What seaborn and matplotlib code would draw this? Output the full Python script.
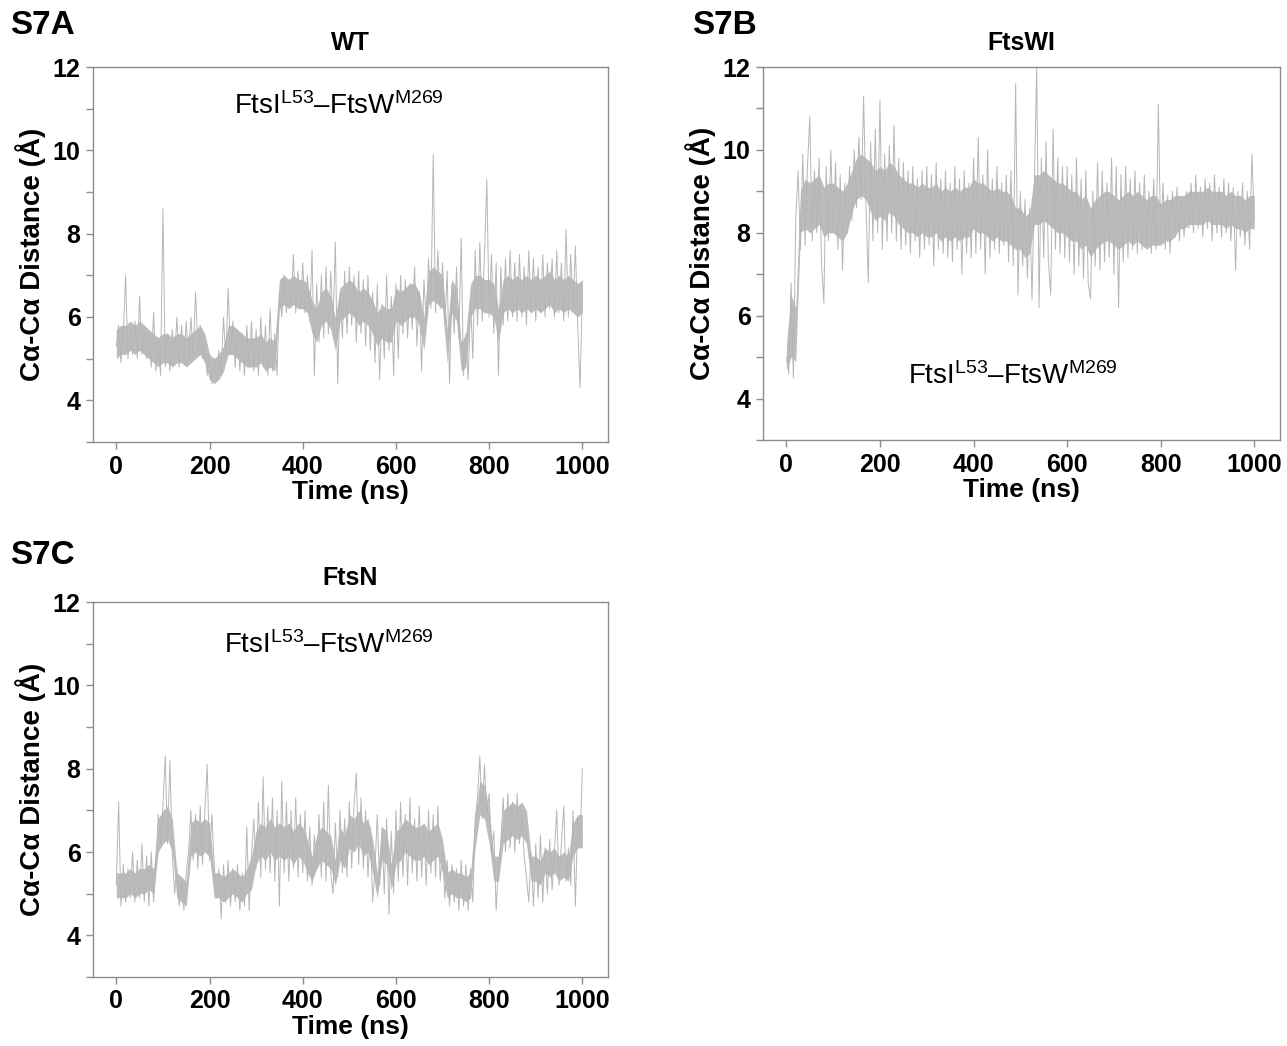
import numpy as np
import pandas as pd
import matplotlib
matplotlib.use("Agg")
import matplotlib.pyplot as plt
import seaborn as sns

# ---- data (Cα-Cα distance, Å) ----
# trace read every 5 ns (local highs / lows)
time_ns = list(range(0, 1001, 5))
# dense core of the trace, read every 10 ns
core_time = list(range(0, 1001, 10))

wt_dist = [
    5.3, 5.8, 4.9, 5.6, 7.0, 5.0, 5.7, 5.1, 5.9, 5.0,
    6.5, 5.1, 5.8, 5.0, 5.6, 4.8, 6.1, 4.7, 5.5, 4.6,
    8.6, 4.8, 5.6, 4.7, 5.7, 5.0, 6.0, 4.8, 5.8, 4.9,
    5.9, 5.0, 6.0, 5.1, 6.6, 5.2, 5.8, 5.0, 5.4, 4.6,
    5.1, 4.4, 5.0, 4.5, 5.2, 4.6, 6.0, 5.0, 6.7, 5.1,
    5.9, 4.8, 5.7, 4.7, 5.6, 4.6, 5.8, 4.8, 5.9, 4.7,
    5.7, 4.6, 6.0, 4.8, 5.8, 4.6, 6.2, 4.7, 5.6, 4.6,
    6.6, 6.0, 7.0, 6.1, 6.9, 6.3, 7.5, 6.1, 7.1, 6.2,
    7.3, 6.1, 7.0, 5.9, 7.6, 4.6, 6.8, 5.4, 7.0, 5.5,
    7.2, 5.6, 7.1, 5.8, 7.8, 4.4, 6.6, 5.5, 7.1, 5.6,
    7.2, 5.8, 7.0, 5.4, 7.1, 5.6, 6.9, 5.3, 7.0, 5.2,
    6.6, 4.9, 6.8, 4.5, 6.3, 5.0, 7.0, 5.2, 6.5, 4.6,
    6.8, 5.0, 7.0, 5.6, 6.9, 5.5, 6.8, 5.7, 7.2, 5.3,
    6.6, 4.7, 6.9, 5.9, 7.4, 6.2, 9.9, 6.1, 7.6, 6.2,
    7.3, 5.8, 7.1, 4.4, 6.8, 5.6, 7.2, 5.5, 7.9, 4.6,
    5.6, 4.5, 6.4, 5.0, 7.6, 5.8, 7.8, 5.9, 7.5, 9.3,
    6.0, 7.5, 5.6, 7.3, 4.6, 7.2, 5.8, 7.4, 5.9, 7.6,
    6.0, 7.3, 5.9, 7.5, 6.0, 7.2, 5.8, 7.6, 6.1, 7.4,
    5.9, 7.2, 6.1, 7.5, 6.0, 7.3, 6.2, 7.4, 6.0, 7.6,
    6.1, 7.3, 5.9, 8.1, 6.0, 7.5, 6.2, 7.7, 5.8, 4.3,
    6.6,
]
wt_core_lo = [
    5.0, 5.1, 5.1, 5.2, 5.1, 5.2, 5.1, 5.0, 4.9, 4.8,
    4.9, 4.9, 4.8, 4.9, 4.9, 4.8, 4.9, 5.0, 5.1, 4.9,
    4.5, 4.4, 4.5, 4.7, 5.1, 5.1, 5.0, 4.9, 4.8, 4.8,
    4.8, 4.9, 4.7, 4.8, 4.7, 6.2, 6.3, 6.2, 6.3, 6.2,
    6.2, 6.1, 5.6, 5.4, 5.8, 5.9, 5.7, 5.2, 5.9, 6.0,
    6.1, 6.0, 5.8, 5.9, 5.8, 5.6, 5.3, 5.5, 5.4, 5.4,
    5.9, 5.8, 5.9, 6.0, 6.0, 5.8, 5.2, 6.3, 6.4, 6.3,
    6.2, 4.9, 6.1, 5.9, 4.7, 4.8, 6.0, 6.2, 6.2, 6.1,
    6.1, 6.0, 5.4, 6.1, 6.2, 6.1, 6.2, 6.1, 6.2, 6.1,
    6.2, 6.1, 6.2, 6.3, 6.1, 6.2, 6.1, 6.2, 6.1, 6.0,
    6.1,
]
wt_core_hi = [
    5.7, 5.8, 5.8, 5.9, 5.8, 5.9, 5.8, 5.7, 5.6, 5.5,
    5.6, 5.6, 5.5, 5.6, 5.6, 5.5, 5.6, 5.7, 5.8, 5.6,
    5.1, 5.0, 5.1, 5.3, 5.8, 5.8, 5.7, 5.6, 5.5, 5.5,
    5.5, 5.6, 5.4, 5.5, 5.4, 6.9, 7.0, 6.9, 7.0, 6.9,
    6.9, 6.8, 6.4, 6.2, 6.6, 6.7, 6.5, 6.0, 6.7, 6.8,
    6.9, 6.8, 6.6, 6.7, 6.6, 6.4, 6.1, 6.3, 6.2, 6.2,
    6.7, 6.6, 6.7, 6.8, 6.8, 6.6, 6.0, 7.1, 7.2, 7.1,
    7.0, 5.7, 6.9, 6.7, 5.4, 5.6, 6.8, 7.0, 7.0, 6.9,
    6.9, 6.8, 6.2, 6.9, 7.0, 6.9, 7.0, 6.9, 7.0, 6.9,
    7.0, 6.9, 7.0, 7.1, 6.9, 7.0, 6.9, 7.0, 6.9, 6.8,
    6.9,
]

ftswi_dist = [
    5.0, 4.6, 6.8, 4.5, 8.3, 9.5, 7.6, 9.9, 7.7, 9.6,
    10.8, 7.8, 9.5, 8.0, 9.8, 7.3, 6.3, 9.6, 7.8, 10.0,
    8.0, 9.7, 7.6, 9.4, 7.1, 9.2, 8.0, 9.6, 8.3, 10.0,
    8.6, 10.3, 8.8, 11.3, 8.7, 6.8, 10.2, 7.8, 10.5, 8.0,
    11.2, 7.6, 9.9, 7.8, 10.1, 8.0, 10.6, 7.8, 9.8, 7.6,
    9.7, 7.7, 9.5, 7.5, 9.6, 7.8, 9.3, 7.4, 9.5, 7.6,
    9.6, 7.7, 9.4, 7.2, 9.7, 7.6, 9.3, 7.5, 9.5, 7.4,
    9.2, 7.3, 9.6, 7.6, 9.3, 7.0, 9.5, 7.5, 9.2, 7.4,
    9.8, 7.5, 10.3, 7.6, 9.4, 7.0, 10.0, 7.4, 9.3, 7.6,
    9.6, 7.5, 9.2, 7.7, 9.4, 7.3, 9.5, 7.2, 11.6, 6.5,
    9.0, 7.2, 8.8, 6.9, 8.6, 6.4, 9.2, 12.0, 6.2, 9.8,
    7.4, 10.2, 7.3, 6.5, 10.5, 7.6, 9.8, 7.5, 9.6, 7.4,
    9.6, 7.3, 9.4, 7.0, 9.8, 7.2, 9.3, 6.9, 9.5, 6.8,
    6.4, 9.0, 7.2, 9.7, 7.1, 9.5, 7.3, 9.2, 7.4, 9.8,
    7.0, 9.6, 6.2, 9.4, 7.3, 9.6, 7.4, 9.3, 7.6, 9.5,
    7.5, 9.2, 7.6, 9.4, 7.7, 9.0, 7.5, 9.3, 7.6, 11.1,
    7.8, 9.2, 7.6, 8.9, 7.5, 9.0, 7.9, 9.1, 7.8, 8.8,
    7.9, 9.0, 8.1, 9.2, 8.0, 9.4, 8.1, 9.1, 7.9, 9.3,
    8.1, 9.2, 7.8, 9.4, 8.0, 9.1, 7.9, 9.3, 8.0, 9.2,
    7.8, 9.1, 7.1, 9.0, 7.9, 9.2, 7.7, 9.0, 7.6, 9.9,
    8.3,
]
ftswi_core_lo = [
    4.7, 5.0, 4.9, 8.0, 8.1, 8.0, 8.1, 8.2, 7.9, 8.0,
    8.0, 7.9, 7.8, 8.0, 8.5, 8.8, 8.9, 8.8, 8.5, 8.3,
    8.4, 8.3, 8.5, 8.4, 8.2, 8.1, 8.0, 8.0, 7.9, 8.0,
    7.9, 7.9, 8.0, 7.8, 7.9, 7.8, 7.9, 7.8, 7.9, 7.9,
    8.1, 8.0, 8.0, 7.9, 7.8, 7.9, 7.8, 7.8, 7.7, 7.6,
    7.6, 7.4, 7.5, 8.2, 8.2, 8.3, 8.2, 8.1, 8.0, 8.0,
    7.9, 7.8, 7.8, 7.6, 7.7, 7.4, 7.6, 7.7, 7.8, 7.8,
    7.7, 7.6, 7.7, 7.8, 7.7, 7.8, 7.7, 7.6, 7.7, 7.7,
    7.7, 7.8, 7.8, 7.9, 8.1, 8.1, 8.2, 8.2, 8.2, 8.2,
    8.3, 8.2, 8.2, 8.2, 8.1, 8.2, 8.1, 8.1, 8.0, 8.1,
    8.1,
]
ftswi_core_hi = [
    5.3, 6.5, 6.2, 9.0, 9.3, 9.2, 9.3, 9.4, 9.1, 9.2,
    9.2, 9.1, 9.0, 9.2, 9.5, 9.8, 9.9, 9.8, 9.7, 9.5,
    9.6, 9.5, 9.7, 9.6, 9.4, 9.3, 9.2, 9.2, 9.1, 9.2,
    9.1, 9.1, 9.2, 9.0, 9.1, 9.0, 9.1, 9.0, 9.1, 9.1,
    9.3, 9.2, 9.2, 9.1, 9.0, 9.1, 9.0, 9.0, 8.9, 8.6,
    8.6, 8.4, 8.5, 9.4, 9.4, 9.5, 9.4, 9.3, 9.2, 9.2,
    9.1, 9.0, 9.0, 8.8, 8.9, 8.6, 8.8, 8.9, 9.0, 9.0,
    8.9, 8.8, 8.9, 9.0, 8.9, 9.0, 8.9, 8.8, 8.9, 8.9,
    8.7, 8.8, 8.8, 8.9, 8.9, 8.9, 9.0, 9.0, 9.0, 9.0,
    9.1, 9.0, 9.0, 9.0, 8.9, 9.0, 8.9, 8.9, 8.8, 8.9,
    8.9,
]

ftsn_dist = [
    5.2, 7.2, 4.7, 5.7, 4.8, 5.6, 4.9, 6.0, 4.8, 5.8,
    4.9, 6.2, 4.8, 5.9, 4.7, 6.0, 4.8, 5.7, 6.9, 6.2,
    7.1, 8.3, 6.2, 8.2, 6.0, 5.0, 5.6, 4.7, 5.4, 4.6,
    5.5, 6.0, 7.0, 5.8, 6.9, 5.6, 7.1, 5.7, 7.0, 8.1,
    5.8, 6.9, 5.7, 4.9, 5.6, 4.4, 5.7, 4.8, 5.8, 4.7,
    5.6, 4.8, 5.7, 4.6, 5.5, 4.7, 6.6, 4.6, 5.9, 6.8,
    5.6, 7.2, 5.4, 7.8, 5.6, 7.1, 5.5, 7.3, 5.3, 7.0,
    4.7, 7.7, 5.5, 7.2, 5.3, 7.0, 5.6, 7.3, 5.4, 6.9,
    5.5, 7.0, 5.3, 6.6, 5.2, 6.4, 5.6, 6.9, 5.4, 7.2,
    5.3, 7.6, 5.5, 5.0, 6.7, 5.4, 7.0, 5.5, 6.8, 5.4,
    7.2, 5.6, 7.1, 7.9, 5.7, 7.3, 5.6, 7.0, 5.4, 6.6,
    4.8, 5.6, 6.9, 5.2, 6.6, 5.0, 6.8, 4.5, 6.5, 5.0,
    7.0, 5.3, 7.2, 5.4, 6.9, 5.2, 7.3, 5.5, 6.8, 5.3,
    7.1, 5.4, 6.6, 5.2, 7.0, 5.5, 6.9, 5.4, 7.1, 5.3,
    6.0, 4.9, 5.8, 4.7, 5.7, 4.8, 5.6, 4.6, 5.8, 4.7,
    5.7, 4.6, 5.6, 4.8, 6.8, 7.3, 8.3, 6.8, 8.1, 6.9,
    7.4, 6.0, 6.5, 4.6, 5.7, 6.2, 7.3, 6.0, 7.4, 6.1,
    7.2, 6.0, 7.4, 6.2, 7.0, 5.9, 5.4, 4.8, 6.0, 4.7,
    6.2, 4.9, 6.4, 4.8, 6.1, 5.0, 6.3, 5.1, 6.0, 7.0,
    5.2, 6.2, 7.1, 5.3, 6.1, 5.2, 7.0, 4.7, 6.8, 6.2,
    8.0,
]
ftsn_core_lo = [
    4.9, 4.9, 4.9, 5.0, 4.9, 5.0, 5.0, 5.1, 5.0, 6.0,
    6.2, 6.3, 6.0, 4.9, 4.8, 4.7, 5.9, 6.0, 5.9, 6.0,
    5.9, 4.9, 4.9, 4.8, 4.9, 5.0, 4.9, 4.8, 5.0, 5.1,
    5.7, 5.9, 5.8, 6.0, 5.8, 5.9, 5.8, 5.9, 5.7, 5.9,
    5.8, 5.5, 5.3, 5.6, 5.8, 5.7, 5.6, 5.2, 5.8, 5.6,
    6.1, 6.0, 6.2, 5.9, 6.0, 5.5, 4.9, 5.8, 5.7, 5.1,
    5.7, 5.8, 6.0, 5.9, 5.8, 5.8, 5.9, 5.7, 5.8, 5.9,
    5.5, 4.9, 5.0, 4.9, 4.9, 4.8, 4.9, 6.1, 6.9, 6.8,
    6.2, 5.3, 5.3, 6.2, 6.3, 6.4, 6.3, 6.4, 6.2, 5.3,
    5.3, 5.2, 5.5, 5.4, 5.5, 5.3, 5.4, 5.3, 5.9, 6.1,
    6.1,
]
ftsn_core_hi = [
    5.5, 5.5, 5.5, 5.6, 5.5, 5.6, 5.6, 5.7, 5.6, 6.8,
    7.0, 7.1, 6.8, 5.5, 5.4, 5.3, 6.7, 6.8, 6.7, 6.8,
    6.7, 5.5, 5.5, 5.4, 5.5, 5.6, 5.5, 5.4, 5.6, 5.9,
    6.5, 6.7, 6.6, 6.8, 6.6, 6.7, 6.6, 6.7, 6.5, 6.7,
    6.6, 6.3, 5.9, 6.4, 6.6, 6.5, 6.4, 5.8, 6.6, 6.4,
    6.9, 6.8, 7.0, 6.7, 6.8, 6.3, 5.5, 6.6, 6.5, 5.7,
    6.5, 6.6, 6.8, 6.7, 6.6, 6.6, 6.7, 6.5, 6.6, 6.7,
    6.3, 5.5, 5.6, 5.5, 5.5, 5.4, 5.5, 6.9, 7.7, 7.6,
    7.0, 5.9, 5.9, 7.0, 7.1, 7.2, 7.1, 7.2, 7.0, 5.9,
    5.9, 5.8, 6.1, 6.0, 6.1, 5.9, 6.0, 5.9, 6.7, 6.9,
    6.9,
]

panel_labels = ["S7A", "S7B", "S7C"]
panel_titles = ["WT", "FtsWI", "FtsN"]
pair_label = r"FtsI$^{\mathrm{L53}}$–FtsW$^{\mathrm{M269}}$"
x_ticks = [0, 200, 400, 600, 800, 1000]
y_major = [4, 6, 8, 10, 12]
y_minor = [3, 5, 7, 9, 11]

# ---- style ----
sns.set_style("white")
plt.rcParams["font.family"] = ["Liberation Sans", "DejaVu Sans"]
plt.rcParams["mathtext.fontset"] = "custom"
plt.rcParams["mathtext.rm"] = "Liberation Sans"
plt.rcParams["mathtext.it"] = "Liberation Sans:italic"
plt.rcParams["mathtext.bf"] = "Liberation Sans:bold"
plt.rcParams["text.color"] = "black"
plt.rcParams["axes.labelcolor"] = "black"
plt.rcParams["xtick.color"] = "black"
plt.rcParams["ytick.color"] = "black"

fig = plt.figure(figsize=(12.87, 10.46), dpi=100)
W, H = 1287, 1046

def px_axes(l, t, r, b):
    return fig.add_axes([l / W, 1 - b / H, (r - l) / W, (b - t) / H])

axA = px_axes(93, 67, 608, 442)
axB = px_axes(763, 67, 1280, 440)
axC = px_axes(93, 602, 608, 977)

traces = [wt_dist, ftswi_dist, ftsn_dist]
cores = [(wt_core_lo, wt_core_hi), (ftswi_core_lo, ftswi_core_hi),
         (ftsn_core_lo, ftsn_core_hi)]
axes = [axA, axB, axC]
ann_pos = [(478, 11.05), (485, 4.55), (457, 10.97)]
line_color = "#b6b6b6"
core_color = "#bcbcbc"
spine_color = "#8c8c8c"

for ax, vals, (lo, hi), title, (ax_x, ax_y) in zip(axes, traces, cores,
                                                    panel_titles, ann_pos):
    ax.fill_between(core_time, lo, hi, color=core_color, linewidth=0.0)
    df = pd.DataFrame({"Time (ns)": time_ns, "dist": vals})
    sns.lineplot(data=df, x="Time (ns)", y="dist", ax=ax, color=line_color,
                 linewidth=0.7, estimator=None)
    ax.set_xlim(-50, 1055)
    ax.set_ylim(3, 12)
    ax.set_xticks(x_ticks)
    ax.set_yticks(y_major)
    ax.set_yticks(y_minor, minor=True)
    ax.tick_params(axis="both", which="both", direction="out", color=spine_color,
                   width=1.0, labelsize=18, pad=4, labelcolor="black")
    ax.tick_params(axis="y", which="both", length=5, left=True)
    ax.tick_params(axis="x", which="major", length=5, bottom=True)
    for lab in ax.get_xticklabels() + ax.get_yticklabels():
        lab.set_fontweight("bold")
    for sp in ax.spines.values():
        sp.set_color(spine_color)
        sp.set_linewidth(1.0)
    ax.set_xlabel("Time (ns)", fontsize=19, fontweight="bold", labelpad=1)
    ax.set_ylabel("Cα-Cα Distance (Å)", fontsize=20, fontweight="bold", labelpad=5)
    ax.set_title(title, fontsize=18, fontweight="bold", pad=12)
    ax.text(ax_x, ax_y, pair_label, ha="center", va="center", fontsize=20,
            color="black")

fig.text(10 / W, 1 - 25 / H, panel_labels[0], fontsize=24, fontweight="bold",
         ha="left", va="center")
fig.text(692 / W, 1 - 25 / H, panel_labels[1], fontsize=24, fontweight="bold",
         ha="left", va="center")
fig.text(10 / W, 1 - 555 / H, panel_labels[2], fontsize=24, fontweight="bold",
         ha="left", va="center")

fig.savefig("out.png", dpi=100, facecolor="white")
